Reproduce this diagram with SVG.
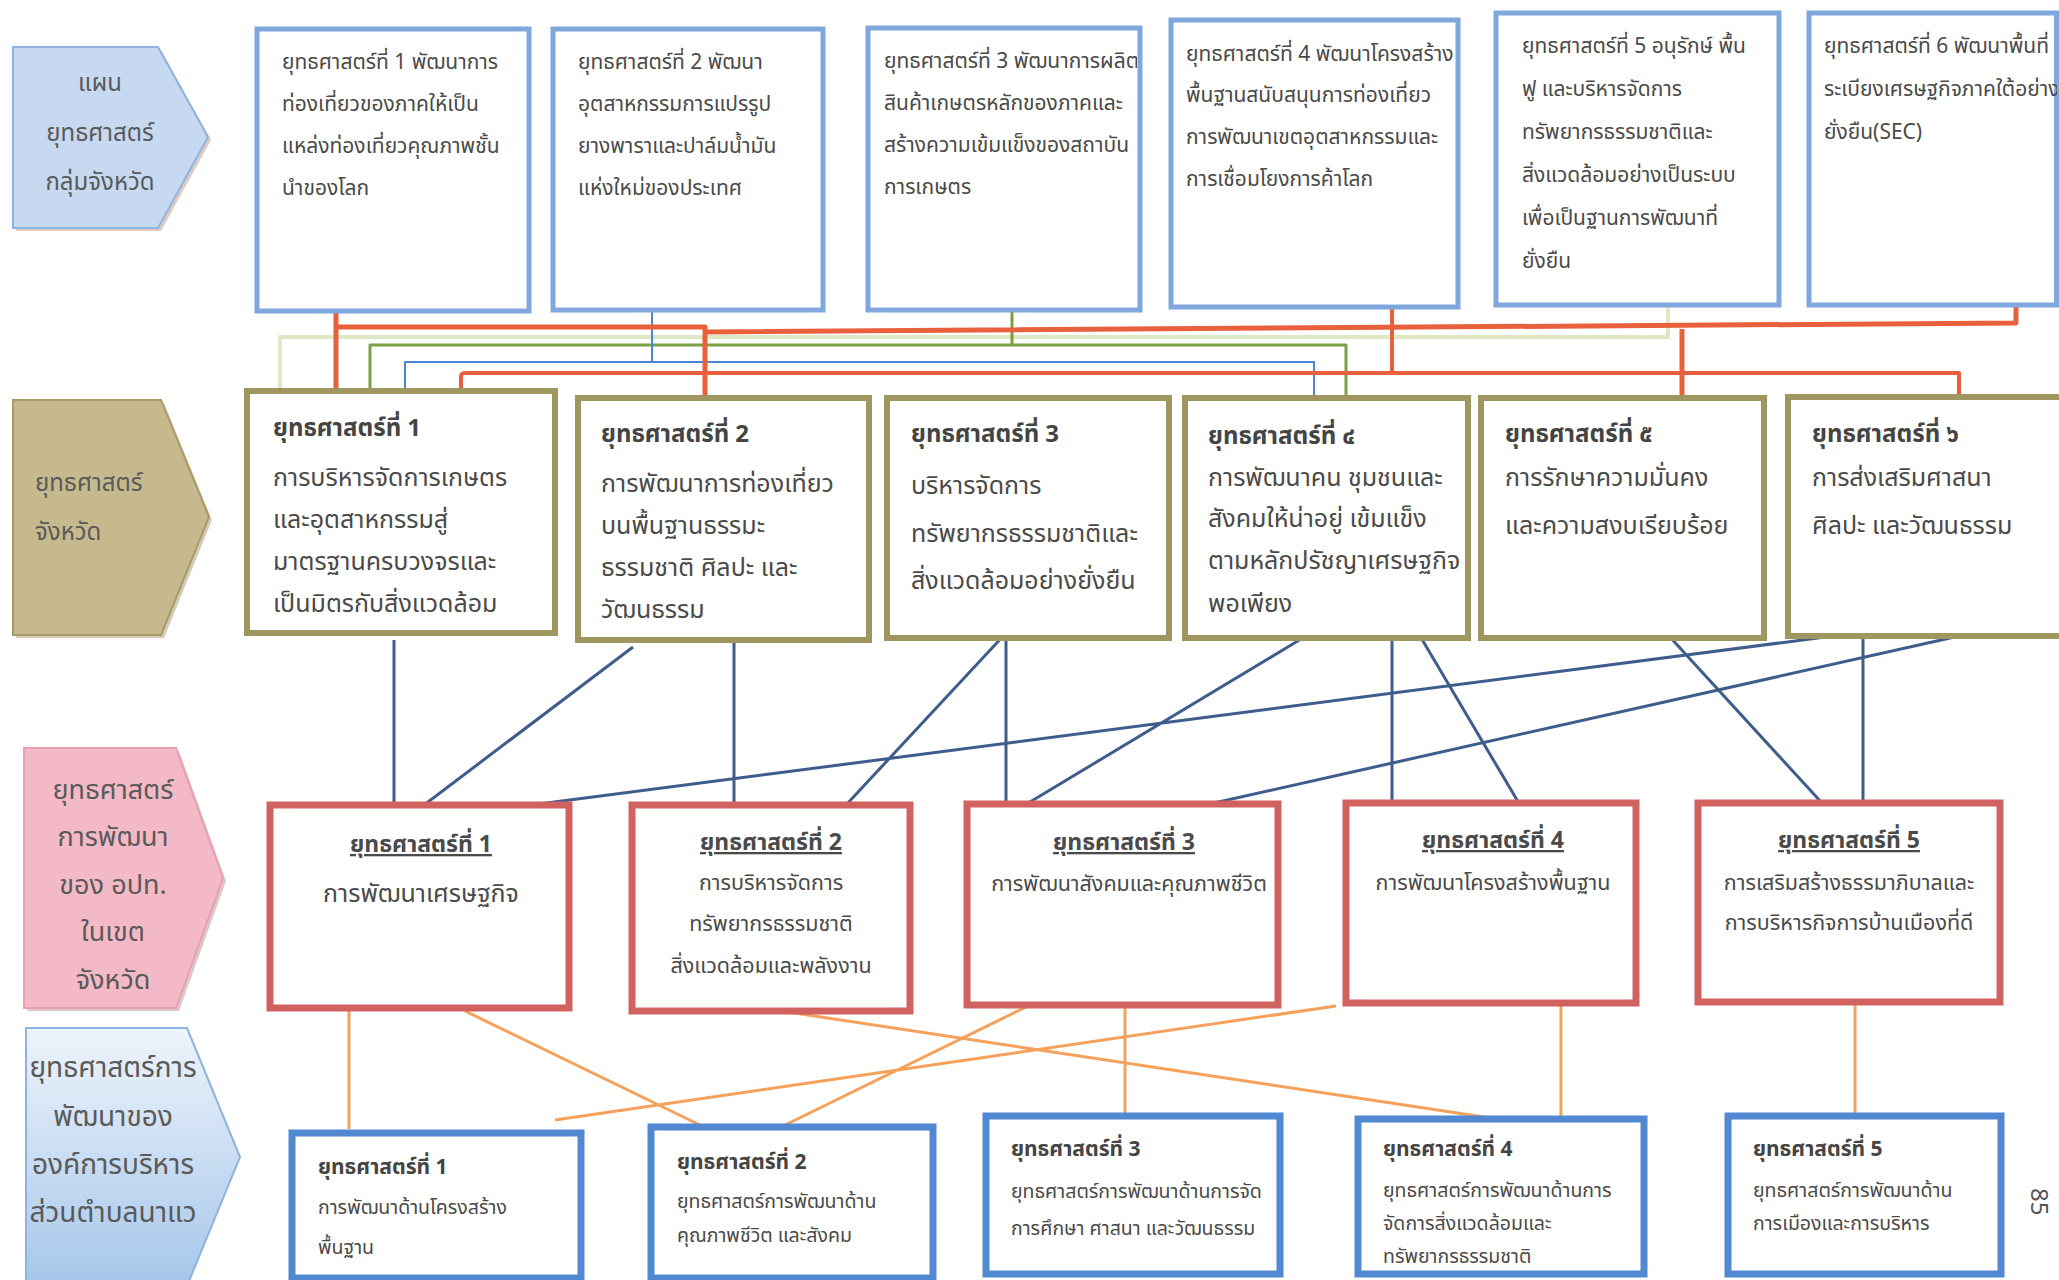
<svg xmlns="http://www.w3.org/2000/svg" width="2059" height="1280" viewBox="0 0 2059 1280">
<defs>
<style>
text{font-family:"Noto Sans Thai","Noto Sans","DejaVu Sans",sans-serif;fill:#4a4a4a}
.lbl{font-size:24px;fill:#5a5a5a}
.lbl3{font-size:27px;fill:#5a5a5a;text-anchor:middle}
.t1{font-size:21px}
.t2{font-size:25px}
.t2b{font-size:24px;font-weight:bold;fill:#444}
.t3{font-size:21.5px;text-anchor:middle}
.t3L{font-size:25px;text-anchor:middle}
.t3b{font-size:23px;font-weight:bold;text-anchor:middle;text-decoration:underline}
.t4{font-size:19.5px}
.t4b{font-size:21px;font-weight:bold;fill:#444}
.b1{fill:#fff;stroke:#80a7de;stroke-width:5}
.b2{fill:#fff;stroke:#a09660;stroke-width:6}
.b3{fill:#fff;stroke:#d2625f;stroke-width:7}
.b4{fill:#fff;stroke:#5088d2;stroke-width:7}
.nav{fill:none;stroke:#3f5d8c;stroke-width:3}
.org{fill:none;stroke:#f6a15b;stroke-width:3}
</style>
<linearGradient id="g4" x1="0" y1="0" x2="0" y2="1">
<stop offset="0" stop-color="#eef4fb"/>
<stop offset="1" stop-color="#a5c6ea"/>
</linearGradient>
<clipPath id="c13"><rect x="868" y="28" width="269" height="282"/></clipPath>
<clipPath id="c16"><rect x="1809" y="13" width="248" height="292"/></clipPath>
</defs>
<rect width="2059" height="1280" fill="#fff"/>

<g id="label1">
<polygon points="16,50 161,50 211,140 161,231 16,231" fill="#c9a79a" opacity="0.6"/>
<polygon points="13,47 158,47 208,137 158,228 13,228" fill="#c6d9f0" stroke="#8eb4e3" stroke-width="2"/>
<text class="lbl" x="100" y="91" text-anchor="middle">แผน</text>
<text class="lbl" x="100" y="141" text-anchor="middle">ยุทธศาสตร์</text>
<text class="lbl" x="100" y="190" text-anchor="middle">กลุ่มจังหวัด</text>
</g>
<g id="label2">
<polygon points="16,403 164,403 212,520 164,638 16,638" fill="#b5a98a" opacity="0.6"/>
<polygon points="13,400 161,400 209,517 161,635 13,635" fill="#c6b98e" stroke="#a99c66" stroke-width="2"/>
<text class="lbl" x="35" y="491">ยุทธศาสตร์</text>
<text class="lbl" x="35" y="540">จังหวัด</text>
</g>
<g id="label3">
<polygon points="27,751 179,751 226,881 179,1011 27,1011" fill="#c9a0a8" opacity="0.6"/>
<polygon points="24,748 176,748 223,878 176,1008 24,1008" fill="#f4b9c7" stroke="#e8a0b0" stroke-width="2"/>
<text class="lbl3" x="113" y="799">ยุทธศาสตร์</text>
<text class="lbl3" x="113" y="846">การพัฒนา</text>
<text class="lbl3" x="113" y="894">ของ อปท.</text>
<text class="lbl3" x="113" y="941">ในเขต</text>
<text class="lbl3" x="113" y="989">จังหวัด</text>
</g>
<g id="label4">
<polygon points="26,1028 187,1028 240,1157 187,1286 26,1286" fill="url(#g4)" stroke="#8db3e2" stroke-width="2"/>
<text class="lbl3" x="113" y="1077" style="font-size:28px">ยุทธศาสตร์การ</text>
<text class="lbl3" x="113" y="1126" style="font-size:28px">พัฒนาของ</text>
<text class="lbl3" x="113" y="1174" style="font-size:28px">องค์การบริหาร</text>
<text class="lbl3" x="113" y="1222" style="font-size:28px">ส่วนตำบลนาแว</text>
</g>

<g id="connectors">
<g fill="none" stroke-linejoin="round">
<path d="M280,390 V337 H1668 V307" stroke="#dfe8c4" stroke-width="4"/>
<path d="M370,390 V345 H1346 V398 M1012,310 V345" stroke="#79a042" stroke-width="3"/>
<path d="M405,390 V362 H1314 V398 M652,310 V362" stroke="#4a86d8" stroke-width="2"/>
<path d="M461,390 V377 Q461,373 465,373 H1959 V396 M1392,307 V373" stroke="#e9603d" stroke-width="4"/>
<path d="M336,312 V390 M336,327 H705 V398 M705,332 L2016,323 V307 M1682,329 V396" stroke="#e9603d" stroke-width="5"/>
</g>
<path class="nav" d="M394,640 V805 M633,647 L424,805 M1833,636 L531,805 M734,640 V805 M1006,633 L846,805 M1006,633 V803 M1306,636 L1025,805 M1959,636 L1205,805 M1392,636 V805 M1420,636 L1520,805 M1669,636 L1822,803 M1863,636 V803"/>
<path class="org" d="M349,1011 V1129 M465,1011 L704,1127 M781,1011 L1497,1119 M1030,1005 L781,1127 M1336,1006 L555,1120 M1125,1005 V1116 M1561,1003 V1119 M1855,1003 V1116"/>
</g>

<g id="s1-1">
<rect class="b1" x="257" y="29" width="272" height="282"/>
<text class="t1" x="282" y="69">ยุทธศาสตร์ที่ 1 พัฒนาการ</text>
<text class="t1" x="282" y="111">ท่องเที่ยวของภาคให้เป็น</text>
<text class="t1" x="282" y="153">แหล่งท่องเที่ยวคุณภาพชั้น</text>
<text class="t1" x="282" y="195">นำของโลก</text>
</g>
<g id="s1-2">
<rect class="b1" x="553" y="29" width="270" height="281"/>
<text class="t1" x="578" y="69">ยุทธศาสตร์ที่ 2 พัฒนา</text>
<text class="t1" x="578" y="111">อุตสาหกรรมการแปรรูป</text>
<text class="t1" x="578" y="153">ยางพาราและปาล์มน้ำมัน</text>
<text class="t1" x="578" y="195">แห่งใหม่ของประเทศ</text>
</g>
<g id="s1-3">
<rect class="b1" x="868" y="28" width="272" height="282"/>
<g clip-path="url(#c13)">
<text class="t1" x="884" y="68">ยุทธศาสตร์ที่ 3 พัฒนาการผลิต</text>
<text class="t1" x="884" y="110">สินค้าเกษตรหลักของภาคและ</text>
<text class="t1" x="884" y="152">สร้างความเข้มแข็งของสถาบัน</text>
<text class="t1" x="884" y="194">การเกษตร</text>
</g>
</g>
<g id="s1-4">
<rect class="b1" x="1171" y="20" width="287" height="287"/>
<text class="t1" x="1186" y="61">ยุทธศาสตร์ที่ 4 พัฒนาโครงสร้าง</text>
<text class="t1" x="1186" y="102">พื้นฐานสนับสนุนการท่องเที่ยว</text>
<text class="t1" x="1186" y="144">การพัฒนาเขตอุตสาหกรรมและ</text>
<text class="t1" x="1186" y="186">การเชื่อมโยงการค้าโลก</text>
</g>
<g id="s1-5">
<rect class="b1" x="1496" y="13" width="283" height="292"/>
<text class="t1" x="1522" y="53">ยุทธศาสตร์ที่ 5 อนุรักษ์ พื้น</text>
<text class="t1" x="1522" y="96">ฟู และบริหารจัดการ</text>
<text class="t1" x="1522" y="139">ทรัพยากรธรรมชาติและ</text>
<text class="t1" x="1522" y="182">สิ่งแวดล้อมอย่างเป็นระบบ</text>
<text class="t1" x="1522" y="225">เพื่อเป็นฐานการพัฒนาที่</text>
<text class="t1" x="1522" y="268">ยั่งยืน</text>
</g>
<g id="s1-6">
<rect class="b1" x="1809" y="13" width="270" height="292"/>
<rect x="2054" y="13" width="5" height="292" fill="#80a7de"/>
<g clip-path="url(#c16)">
<text class="t1" x="1824" y="53">ยุทธศาสตร์ที่ 6 พัฒนาพื้นที่</text>
<text class="t1" x="1824" y="96">ระเบียงเศรษฐกิจภาคใต้อย่าง</text>
<text class="t1" x="1824" y="139">ยั่งยืน(SEC)</text>
</g>
</g>

<g id="s2-1">
<rect class="b2" x="247" y="391" width="308" height="242"/>
<text class="t2b" x="273" y="436">ยุทธศาสตร์ที่ 1</text>
<text class="t2" x="273" y="486">การบริหารจัดการเกษตร</text>
<text class="t2" x="273" y="528">และอุตสาหกรรมสู่</text>
<text class="t2" x="273" y="570">มาตรฐานครบวงจรและ</text>
<text class="t2" x="273" y="612">เป็นมิตรกับสิ่งแวดล้อม</text>
</g>
<g id="s2-2">
<rect class="b2" x="578" y="398" width="291" height="242"/>
<text class="t2b" x="601" y="442">ยุทธศาสตร์ที่ 2</text>
<text class="t2" x="601" y="492">การพัฒนาการท่องเที่ยว</text>
<text class="t2" x="601" y="534">บนพื้นฐานธรรมะ</text>
<text class="t2" x="601" y="576">ธรรมชาติ ศิลปะ และ</text>
<text class="t2" x="601" y="618">วัฒนธรรม</text>
</g>
<g id="s2-3">
<rect class="b2" x="887" y="398" width="282" height="240"/>
<text class="t2b" x="911" y="442">ยุทธศาสตร์ที่ 3</text>
<text class="t2" x="911" y="494">บริหารจัดการ</text>
<text class="t2" x="911" y="542">ทรัพยากรธรรมชาติและ</text>
<text class="t2" x="911" y="589">สิ่งแวดล้อมอย่างยั่งยืน</text>
</g>
<g id="s2-4">
<rect class="b2" x="1185" y="398" width="283" height="240"/>
<text class="t2b" x="1208" y="444">ยุทธศาสตร์ที่ ๔</text>
<text class="t2" x="1208" y="486">การพัฒนาคน ชุมชนและ</text>
<text class="t2" x="1208" y="527">สังคมให้น่าอยู่ เข้มแข็ง</text>
<text class="t2" x="1208" y="569">ตามหลักปรัชญาเศรษฐกิจ</text>
<text class="t2" x="1208" y="612">พอเพียง</text>
</g>
<g id="s2-5">
<rect class="b2" x="1481" y="398" width="283" height="240"/>
<text class="t2b" x="1505" y="442">ยุทธศาสตร์ที่ ๕</text>
<text class="t2" x="1505" y="486">การรักษาความมั่นคง</text>
<text class="t2" x="1505" y="534">และความสงบเรียบร้อย</text>
</g>
<g id="s2-6">
<rect class="b2" x="1788" y="397" width="290" height="239"/>
<text class="t2b" x="1812" y="442">ยุทธศาสตร์ที่ ๖</text>
<text class="t2" x="1812" y="486">การส่งเสริมศาสนา</text>
<text class="t2" x="1812" y="534">ศิลปะ และวัฒนธรรม</text>
</g>

<g id="s3-1">
<rect class="b3" x="270" y="805" width="299" height="203"/>
<text class="t3b" x="421" y="852">ยุทธศาสตร์ที่ 1</text>
<text class="t3L" x="421" y="902">การพัฒนาเศรษฐกิจ</text>
</g>
<g id="s3-2">
<rect class="b3" x="632" y="805" width="278" height="206"/>
<text class="t3b" x="771" y="850">ยุทธศาสตร์ที่ 2</text>
<text class="t3" x="771" y="890">การบริหารจัดการ</text>
<text class="t3" x="771" y="931">ทรัพยากรธรรมชาติ</text>
<text class="t3" x="771" y="973">สิ่งแวดล้อมและพลังงาน</text>
</g>
<g id="s3-3">
<rect class="b3" x="967" y="804" width="311" height="201"/>
<text class="t3b" x="1124" y="850">ยุทธศาสตร์ที่ 3</text>
<text class="t3" x="1129" y="891">การพัฒนาสังคมและคุณภาพชีวิต</text>
</g>
<g id="s3-4">
<rect class="b3" x="1346" y="803" width="290" height="200"/>
<text class="t3b" x="1493" y="848">ยุทธศาสตร์ที่ 4</text>
<text class="t3" x="1493" y="890">การพัฒนาโครงสร้างพื้นฐาน</text>
</g>
<g id="s3-5">
<rect class="b3" x="1698" y="803" width="302" height="199"/>
<text class="t3b" x="1849" y="848">ยุทธศาสตร์ที่ 5</text>
<text class="t3" x="1849" y="890">การเสริมสร้างธรรมาภิบาลและ</text>
<text class="t3" x="1849" y="930">การบริหารกิจการบ้านเมืองที่ดี</text>
</g>

<g id="s4-1">
<rect class="b4" x="292" y="1133" width="289" height="145"/>
<text class="t4b" x="318" y="1174">ยุทธศาสตร์ที่ 1</text>
<text class="t4" x="318" y="1214">การพัฒนาด้านโครงสร้าง</text>
<text class="t4" x="318" y="1254">พื้นฐาน</text>
</g>
<g id="s4-2">
<rect class="b4" x="651" y="1127" width="282" height="151"/>
<text class="t4b" x="677" y="1169">ยุทธศาสตร์ที่ 2</text>
<text class="t4" x="677" y="1208">ยุทธศาสตร์การพัฒนาด้าน</text>
<text class="t4" x="677" y="1242">คุณภาพชีวิต และสังคม</text>
</g>
<g id="s4-3">
<rect class="b4" x="986" y="1116" width="294" height="158"/>
<text class="t4b" x="1011" y="1156">ยุทธศาสตร์ที่ 3</text>
<text class="t4" x="1011" y="1198">ยุทธศาสตร์การพัฒนาด้านการจัด</text>
<text class="t4" x="1011" y="1235">การศึกษา ศาสนา และวัฒนธรรม</text>
</g>
<g id="s4-4">
<rect class="b4" x="1358" y="1119" width="286" height="155"/>
<text class="t4b" x="1383" y="1156">ยุทธศาสตร์ที่ 4</text>
<text class="t4" x="1383" y="1197">ยุทธศาสตร์การพัฒนาด้านการ</text>
<text class="t4" x="1383" y="1230">จัดการสิ่งแวดล้อมและ</text>
<text class="t4" x="1383" y="1263">ทรัพยากรธรรมชาติ</text>
</g>
<g id="s4-5">
<rect class="b4" x="1728" y="1116" width="273" height="158"/>
<text class="t4b" x="1753" y="1156">ยุทธศาสตร์ที่ 5</text>
<text class="t4" x="1753" y="1197">ยุทธศาสตร์การพัฒนาด้าน</text>
<text class="t4" x="1753" y="1230">การเมืองและการบริหาร</text>
</g>

<text x="2031" y="1188" transform="rotate(90 2031 1188)" style="font-size:24px;fill:#555">85</text>
</svg>
